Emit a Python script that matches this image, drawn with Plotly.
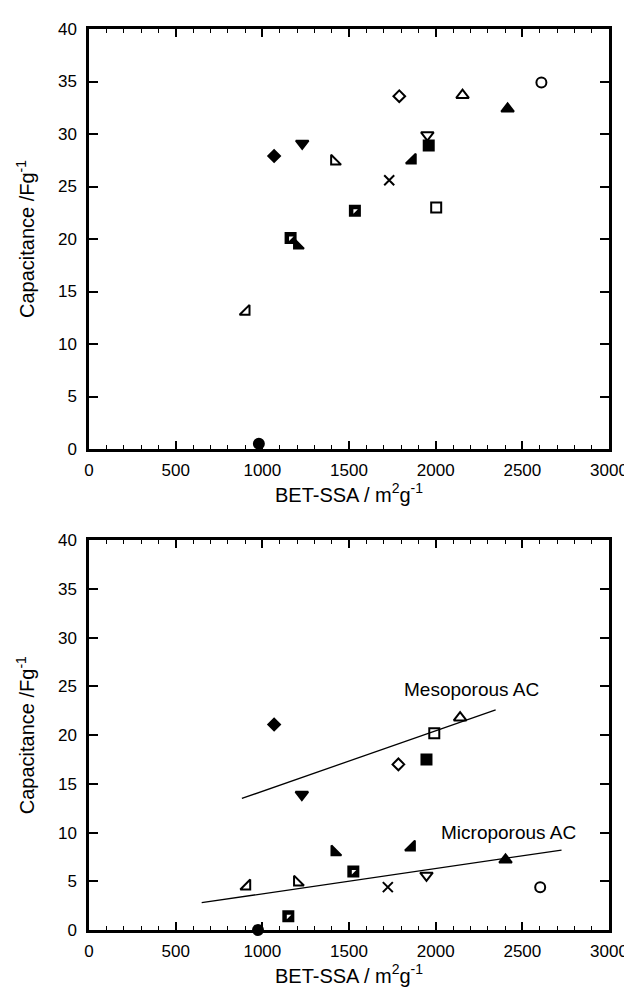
import plotly.graph_objects as go

# Sample markers (same order in both panels)
symbols = ["circle", "diamond", "triangle-down", "triangle-se-open", "triangle-sw-open",
           "triangle-sw", "square", "square", "x-thin", "diamond-open", "triangle-se",
           "triangle-down-open", "square", "square-open", "triangle-up-open",
           "triangle-up", "circle-open"]
half_filled = [False, False, False, False, False, False, True, True, False, False, False,
               False, False, False, False, False, False]

# Top panel (BET-SSA, capacitance)
top_x = [980, 1068, 1230, 907, 1416, 1202, 1163, 1534, 1732, 1790, 1866, 1952, 1960, 2003, 2155, 2415, 2610]
top_y = [0.5, 27.9, 29.1, 13.1, 27.4, 19.4, 20.1, 22.7, 25.6, 33.6, 27.5, 29.9, 28.9, 23.0, 33.7, 32.4, 34.9]

# Bottom panel
bot_x = [975, 1068, 1228, 911, 1202, 1418, 1150, 1525, 1724, 1785, 1861, 1947, 1947, 1992, 2141, 2403, 2603]
bot_y = [0.0, 21.1, 13.9, 4.5, 4.9, 8.0, 1.4, 6.0, 4.4, 17.0, 8.5, 5.6, 17.5, 20.2, 21.8, 7.2, 4.4]

meso_line_x = [882, 2346]
meso_line_y = [13.5, 22.6]
micro_line_x = [650, 2726]
micro_line_y = [2.8, 8.2]

x_ticks = [0, 500, 1000, 1500, 2000, 2500, 3000]
y_ticks = [0, 5, 10, 15, 20, 25, 30, 35, 40]

FONT = "Liberation Sans, Arial, Helvetica, sans-serif"

fig = go.Figure()


def marker_size(s):
    if "diamond" in s:
        return 9
    if "circle" in s:
        return 10
    if "square" in s:
        return 10
    if "x-thin" in s:
        return 10
    return 11


def add_panel(xs, ys, xa, ya):
    sizes = [marker_size(s) for s in symbols]
    fig.add_trace(go.Scatter(
        x=xs, y=ys, mode="markers", xaxis=xa, yaxis=ya, showlegend=False, cliponaxis=False,
        marker=dict(symbol=symbols, size=sizes, color="black", opacity=1,
                    line=dict(color="black", width=2))))
    hx = [x for x, h in zip(xs, half_filled) if h]
    hy = [y for y, h in zip(ys, half_filled) if h]
    fig.add_trace(go.Scatter(
        x=hx, y=hy, mode="markers", xaxis=xa, yaxis=ya, showlegend=False,
        marker=dict(symbol="triangle-nw", size=5, color="white", line=dict(width=0))))


add_panel(top_x, top_y, "x", "y")
add_panel(bot_x, bot_y, "x2", "y2")

for lx, ly in ((meso_line_x, meso_line_y), (micro_line_x, micro_line_y)):
    fig.add_trace(go.Scatter(x=lx, y=ly, mode="lines", xaxis="x2", yaxis="y2",
                             showlegend=False, line=dict(color="black", width=1.3)))

axis_common = dict(showline=True, linecolor="black", linewidth=2.5, mirror="ticks",
                   ticks="inside", tickcolor="black", tickwidth=1.5, showgrid=False,
                   zeroline=False, tickfont=dict(family=FONT, size=17, color="black"))

xa = dict(axis_common, range=[0, 3000], tickvals=x_ticks, ticklen=8,
          minor=dict(dtick=100, ticks="inside", ticklen=4, tickcolor="black", tickwidth=1.2, showgrid=False),
          title=dict(text="BET-SSA / m<sup>2</sup>g<sup>-1</sup>", font=dict(family=FONT, size=20, color="black"), standoff=8),
          ticklabelstandoff=4)
ya = dict(axis_common, range=[0, 40], tickvals=y_ticks, ticklen=9,
          title=dict(text="Capacitance /Fg<sup>-1</sup>", font=dict(family=FONT, size=20, color="black"), standoff=18),
          ticklabelstandoff=6)

fig.update_layout(
    width=632, height=987,
    margin=dict(l=81, r=24, t=15, b=54),
    plot_bgcolor="white", paper_bgcolor="white",
    xaxis=dict(xa, domain=[0, 1], anchor="y"),
    yaxis=dict(ya, domain=[0.5338, 1.0], anchor="x"),
    xaxis2=dict(xa, domain=[0, 1], anchor="y2"),
    yaxis2=dict(ya, domain=[0.0, 0.4325], anchor="x2"),
    annotations=[
        dict(x=2207, y=24.7, xref="x2", yref="y2", text="Mesoporous AC", showarrow=False,
             font=dict(family=FONT, size=19, color="black")),
        dict(x=2418, y=10.0, xref="x2", yref="y2", text="Microporous AC", showarrow=False,
             font=dict(family=FONT, size=19, color="black")),
    ],
)

fig.write_html("out.html")
